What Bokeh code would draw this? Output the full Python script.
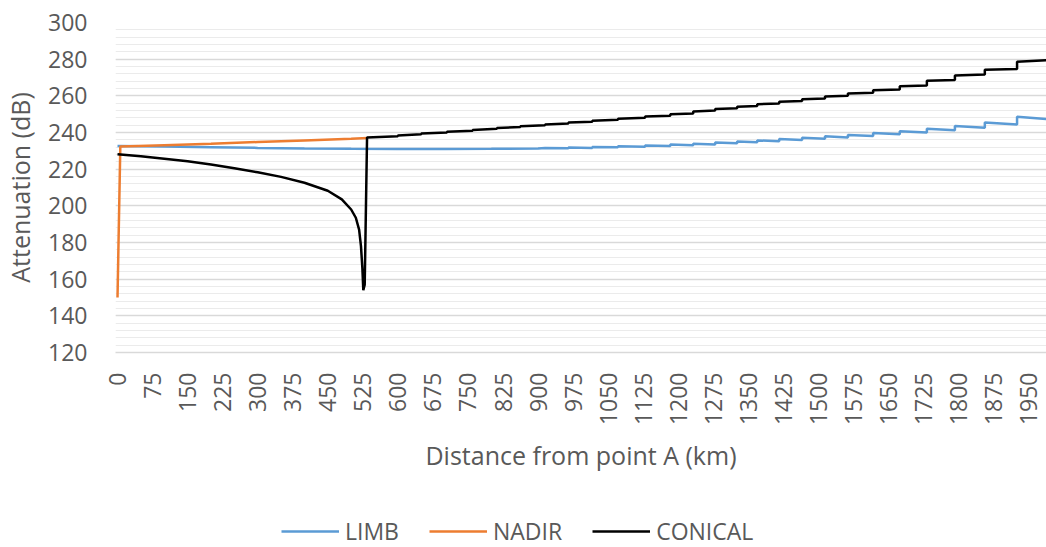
from bokeh.plotting import figure
from bokeh.models import FixedTicker, Legend, LegendItem, Range1d
from bokeh.layouts import column
from bokeh.embed import file_html
from bokeh.resources import INLINE
import math

# ---------------- data ----------------
# NADIR
nadir_km = [0, 6, 100, 200, 300, 400, 500, 535]
nadir_db = [150.0, 232.3, 233.1, 233.9, 234.8, 235.7, 236.6, 237.0]

# CONICAL: smooth part up to the dip
conical_curve_km = [0, 50, 100, 150, 200, 250, 300, 350, 400, 450, 480, 500, 510, 517, 521, 524, 526, 529, 534]
conical_curve_db = [228.2, 227.0, 225.7, 224.3, 222.5, 220.5, 218.3, 215.8, 212.6, 208.2, 203.5, 198.0,
                    193.5, 187.0, 178.0, 166.0, 154.0, 157.0, 237.3]
# CONICAL: staircase part (step boundaries, level at start / end of every step)
conical_step_km = [534, 600, 650, 705, 760, 812, 862, 915, 965, 1016, 1071, 1129, 1183, 1232, 1279, 1326,
                   1369, 1416, 1465, 1514, 1563, 1617, 1674, 1732, 1792, 1856, 1925, 1990]
conical_step_start = [237.3, 238.4, 239.4, 240.4, 241.4, 242.4, 243.4, 244.4, 245.4, 246.4, 247.5, 248.7,
                      249.9, 251.5, 252.8, 254.1, 255.4, 256.8, 258.2, 259.7, 261.3, 263.1, 265.2, 268.2,
                      271.1, 274.2, 278.6]
conical_step_end = [238.0, 239.0, 240.0, 241.0, 242.0, 243.0, 243.9, 244.9, 245.9, 246.9, 248.0, 249.2,
                    250.4, 252.0, 253.2, 254.5, 255.8, 257.2, 258.6, 260.1, 261.7, 263.5, 265.6, 268.7,
                    271.6, 274.7, 279.4]

# LIMB: smooth part then saw-tooth
limb_curve_km = [0, 100, 200, 300, 400, 500, 600, 700, 800, 900]
limb_curve_db = [232.6, 232.3, 232.0, 231.6, 231.3, 231.1, 231.0, 231.0, 231.1, 231.3]
limb_step_km = [915, 965, 1016, 1071, 1129, 1183, 1232, 1279, 1326, 1369, 1416, 1465, 1514, 1563, 1617,
                1674, 1732, 1792, 1856, 1925, 1990]
limb_step_start = [231.6, 231.8, 232.1, 232.5, 232.9, 233.4, 233.9, 234.5, 235.1, 235.7, 236.4, 237.1,
                   237.9, 238.7, 239.7, 240.7, 242.0, 243.5, 245.4, 248.6]
limb_step_end = [231.4, 231.6, 231.9, 232.2, 232.6, 233.1, 233.5, 234.1, 234.7, 235.2, 235.9, 236.6,
                 237.3, 238.1, 239.0, 240.0, 241.2, 242.6, 244.4, 247.3]

x_ticks = list(range(0, 1951, 75))
y_ticks = list(range(120, 301, 20))
y_minor = list(range(120, 301, 4))
series_names = ["LIMB", "NADIR", "CONICAL"]
series_colors = ["#5b9bd5", "#ed7d31", "#000000"]


def stairs(curve_km, curve_db, step_km, starts, ends):
    xs, ys = list(curve_km), list(curve_db)
    for i in range(len(starts)):
        xs += [step_km[i], step_km[i + 1]]
        ys += [starts[i], ends[i]]
    return xs, ys


limb_x, limb_y = stairs(limb_curve_km, limb_curve_db, limb_step_km, limb_step_start, limb_step_end)
con_x, con_y = stairs(conical_curve_km, conical_curve_db, conical_step_km, conical_step_start, conical_step_end)

FONT = "Open Sans"
GREY = "#595959"
FS = "23px"
FS_TITLE = "25px"
W, H_MAIN, H_LEG = 1046, 500, 47

p = figure(width=W, height=H_MAIN, output_backend="svg", toolbar_location=None,
           x_range=Range1d(-4.3, 1988), y_range=Range1d(120, 300),
           min_border_left=115, min_border_right=0, min_border_top=22, min_border_bottom=H_MAIN - 352)
p.outline_line_color = None
p.xgrid.grid_line_color = None
p.ygrid.grid_line_color = "#d9d9d9"
p.ygrid.grid_line_width = 1.5
p.ygrid.minor_grid_line_color = "#ebebeb"
p.ygrid.minor_grid_line_width = 1

p.yaxis.ticker = FixedTicker(ticks=y_ticks, minor_ticks=y_minor)
p.xaxis.ticker = FixedTicker(ticks=x_ticks)

for ax in (p.xaxis[0], p.yaxis[0]):
    ax.major_tick_line_color = None
    ax.minor_tick_line_color = None
    ax.major_label_text_font = FONT
    ax.major_label_text_font_size = FS
    ax.major_label_text_color = GREY
    ax.axis_label_text_font = FONT
    ax.axis_label_text_font_size = FS_TITLE
    ax.axis_label_text_color = GREY
    ax.axis_label_text_font_style = "normal"

p.yaxis.axis_line_color = None
p.xaxis.axis_line_color = "#d9d9d9"
p.xaxis.axis_line_width = 1.5
p.yaxis.axis_label = "Attenuation (dB)"
p.xaxis.axis_label = "Distance from point A (km)"
p.yaxis.major_label_standoff = 22
p.yaxis.axis_label_standoff = 8
p.xaxis.major_label_orientation = math.pi / 2
p.xaxis.major_label_standoff = 14
p.xaxis.axis_label_standoff = 10

p.line(limb_x, limb_y, line_color=series_colors[0], line_width=2.5)
p.line(nadir_km, nadir_db, line_color=series_colors[1], line_width=2.5)
p.line(con_x, con_y, line_color=series_colors[2], line_width=2.5)

# ---------------- legend strip below the chart ----------------
leg = figure(width=W, height=H_LEG, output_backend="svg", toolbar_location=None,
             x_range=Range1d(0, 1), y_range=Range1d(0, 1),
             min_border_left=0, min_border_right=0, min_border_top=0, min_border_bottom=0)
leg.axis.visible = False
leg.grid.visible = False
leg.outline_line_color = None
items = []
for name, col in zip(series_names, series_colors):
    r = leg.line([5, 6], [5, 6], line_color=col, line_width=2.5)  # outside the visible range
    items.append(LegendItem(label=name, renderers=[r]))
legend = Legend(items=items, orientation="horizontal", location=(166, 0),
                glyph_width=58, glyph_height=20, label_standoff=6, spacing=30,
                padding=0, margin=0, border_line_color=None, background_fill_alpha=0,
                label_text_font=FONT, label_text_font_size=FS, label_text_color=GREY)
leg.add_layout(legend, "center")

layout = column(p, leg, spacing=0)
open("out.html", "w").write(file_html(layout, INLINE))
